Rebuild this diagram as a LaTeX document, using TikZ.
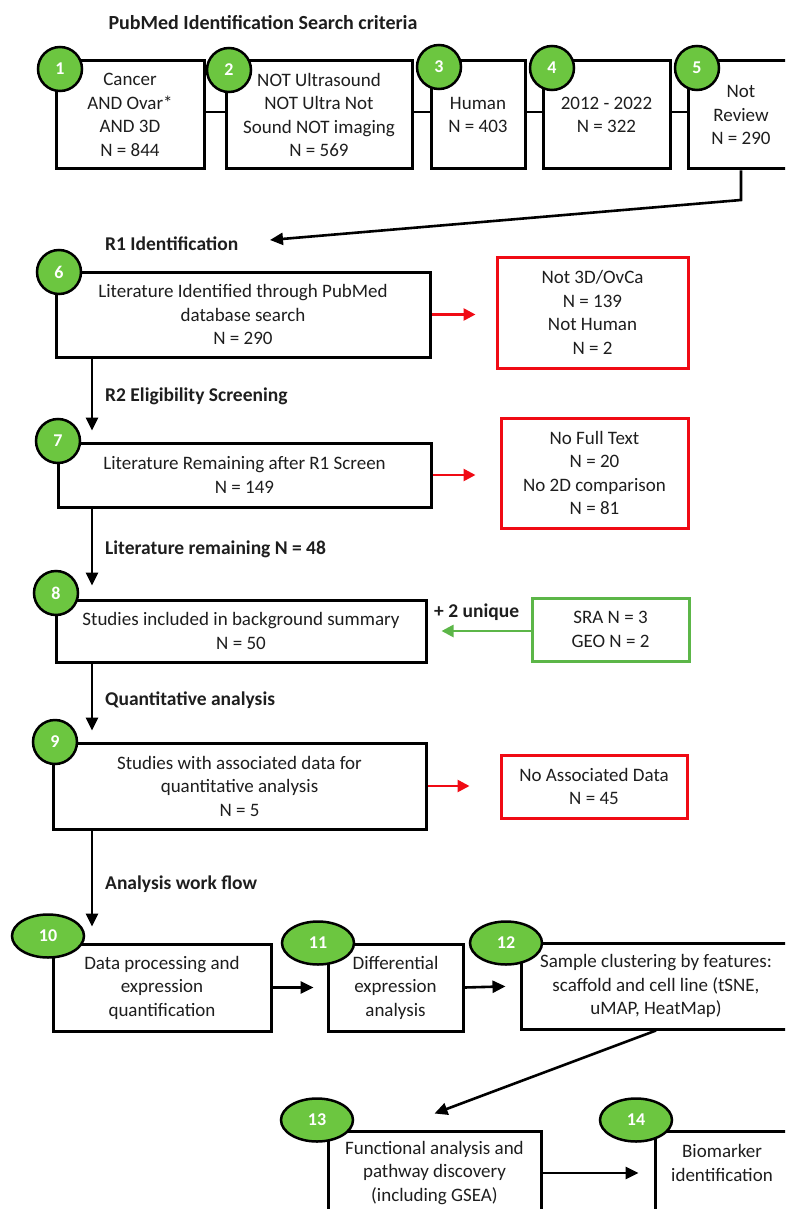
\documentclass[tikz,border=0pt]{standalone}
\usepackage{fontspec}
\setmainfont{Carlito}
\usetikzlibrary{arrows.meta,shapes.geometric}
\definecolor{txt}{RGB}{30,30,30}
\definecolor{cgreen}{RGB}{108,198,64}
\definecolor{bgreen}{RGB}{92,182,72}
\definecolor{bred}{RGB}{240,10,20}
\tikzset{
  box/.style={draw=black, line width=3pt, fill=white, align=center, inner sep=0pt, text=txt, font=\fontsize{19}{23.5}\selectfont},
  redbox/.style={box, draw=bred},
  grnbox/.style={box, draw=bgreen},
  num/.style={circle, draw=black, line width=2.5pt, fill=cgreen, minimum size=44pt, inner sep=0pt, text=white, font=\fontsize{18}{18}\selectfont\bfseries},
  numel/.style={ellipse, draw=black, line width=2.5pt, fill=cgreen, minimum width=72pt, minimum height=43pt, inner sep=0pt, text=white, font=\fontsize{18}{18}\selectfont\bfseries},
  lbl/.style={anchor=west, inner sep=0pt, text=txt, font=\fontsize{19.5}{19.5}\selectfont\bfseries},
  arr/.style={line width=2.6pt, -{Triangle[length=13pt,width=12pt]}},
  link/.style={line width=2.6pt},
  rarr/.style={arr, draw=bred, -{Triangle[length=12pt,width=12pt]}},
  garr/.style={arr, draw=bgreen, -{Triangle[length=12pt,width=12pt]}}
}
\begin{document}
\begin{tikzpicture}[x=1pt,y=-1pt]
\useasboundingbox (0,0) rectangle (785,1209);
\clip (0,0) rectangle (785,1209);

% title
\node[lbl, anchor=center, font=\fontsize{20}{20}\selectfont\bfseries] (title) at (263,23) {PubMed Identification Search criteria};

% top row
\node[box, minimum width=148, minimum height=108] (b1) at (130,115) {Cancer\\AND Ovar*\\AND 3D\\N = 844};
\node[box, minimum width=186, minimum height=108] (b2) at (319,115) {NOT Ultrasound\\NOT Ultra Not\\Sound NOT imaging\\N = 569};
\node[box, minimum width=94, minimum height=108] (b3) at (478,115) {Human\\N = 403};
\node[box, minimum width=127, minimum height=108] (b4) at (606.5,115) {2012 - 2022\\N = 322};
\node[box, minimum width=106, minimum height=108] (b5) at (741,115) {Not\\Review\\N = 290};

\draw[link] ([yshift=3pt]b1.east) -- ([yshift=3pt]b2.west);
\draw[link] ([yshift=3pt]b2.east) -- ([yshift=3pt]b3.west);
\draw[link] ([yshift=3pt]b3.east) -- ([yshift=3pt]b4.west);
\draw[link] ([yshift=3pt]b4.east) -- ([yshift=3pt]b5.west);

\coordinate (bend) at (741,200);
\coordinate (r1tip) at (270,240);
\draw[arr] (b5.south) -- (bend) -- (r1tip);

\node[lbl] (l1) at (105,244) {R1 Identification};

% main column
\node[box, minimum width=374, minimum height=85] (b6) at (243,314.5) {Literature Identified through PubMed\\database search\\N = 290};
\node[redbox, minimum width=191, minimum height=111] (r1) at (592.5,312.5) {Not 3D/OvCa\\N = 139\\Not Human\\N = 2};
\draw[rarr, shorten >=20pt] (b6.east) -- (b6.east -| r1.west);

\coordinate (colx) at (92,0);

\node[lbl] (l2) at (105,396) {R2 Eligibility Screening};

\node[box, minimum width=373, minimum height=64] (b7) at (244.5,475) {Literature Remaining after R1 Screen\\N = 149};
\node[redbox, minimum width=187, minimum height=110] (r2) at (594.5,473) {No Full Text\\N = 20\\No 2D comparison\\N = 81};
\draw[rarr, shorten >=24pt] (b7.east) -- (b7.east -| r2.west);
\draw[arr, shorten >=11pt] (b6.south -| colx) -- (b7.north -| colx);

\node[lbl] (l3) at (105,549) {Literature remaining N = 48};

\node[box, minimum width=370, minimum height=62] (b8) at (241,631) {Studies included in background summary\\N = 50};
\draw[arr, shorten >=13pt] (b7.south -| colx) -- (b8.north -| colx);

\node[grnbox, minimum width=157, minimum height=63] (g1) at (610.5,629.5) {SRA N = 3\\GEO N = 2};
\draw[garr, shorten >=14pt] ([yshift=-1.5pt]g1.west) -- ([yshift=-1.5pt]g1.west -| b8.east);
\node[lbl] (l4) at (434,612) {+ 2 unique};

\node[lbl] (l5) at (105,700) {Quantitative analysis};

\node[box, minimum width=373, minimum height=86] (b9) at (239.5,786) {Studies with associated data for\\quantitative analysis\\N = 5};
\draw[arr, shorten >=11pt] (b8.south -| colx) -- (b9.north -| colx);
\node[redbox, minimum width=186, minimum height=63] (r3) at (594,786.5) {No Associated Data\\N = 45};
\draw[rarr, shorten >=30pt] (b9.east) -- (b9.east -| r3.west);

\node[lbl] (l6) at (105,884) {Analysis work flow};

% workflow
\node[box, minimum width=218, minimum height=87] (b10) at (162,987.5) {Data processing and\\expression\\quantification};
\draw[arr, shorten >=16pt] (b9.south -| colx) -- (b10.north -| colx);
\node[box, minimum width=135, minimum height=87] (b11) at (395.5,987.5) {Differential\\expression\\analysis};
\node[box, minimum width=270, minimum height=86] (b12) at (656,986) {Sample clustering by features:\\scaffold and cell line (tSNE,\\uMAP, HeatMap)};
\draw[arr, shorten >=13pt] (b10.east) -- (b11.west);
\draw[arr, shorten >=14pt] (b11.east) -- (b12.west);

\node[box, minimum width=213, minimum height=84] (b13) at (434.5,1173) {Functional analysis and\\pathway discovery\\(including GSEA)};
\node[box, minimum width=134, minimum height=84] (b14) at (722,1173) {Biomarker\\identification\\[-3pt]\mbox{}};
\draw[arr] (b12.south) -- ([yshift=16pt]b13.north);
\draw[arr, shorten >=15pt] (b13.east) -- (b14.west);

% numbers
\node[num] (c1) at (60,69) {1};
\node[num] (c2) at (229,70) {2};
\node[num] (c3) at (439,67) {3};
\node[num] (c4) at (552,68) {4};
\node[num] (c5) at (697,68) {5};
\node[num] (c6) at (59,272) {6};
\node[num] (c7) at (58,441) {7};
\node[num] (c8) at (56,593) {8};
\node[num] (c9) at (55,742) {9};
\node[numel] (c10) at (48,936) {10};
\node[numel] (c11) at (318,943) {11};
\node[numel] (c12) at (506,943) {12};
\node[numel] (c13) at (317,1120) {13};
\node[numel] (c14) at (636,1120) {14};
\end{tikzpicture}
\end{document}
